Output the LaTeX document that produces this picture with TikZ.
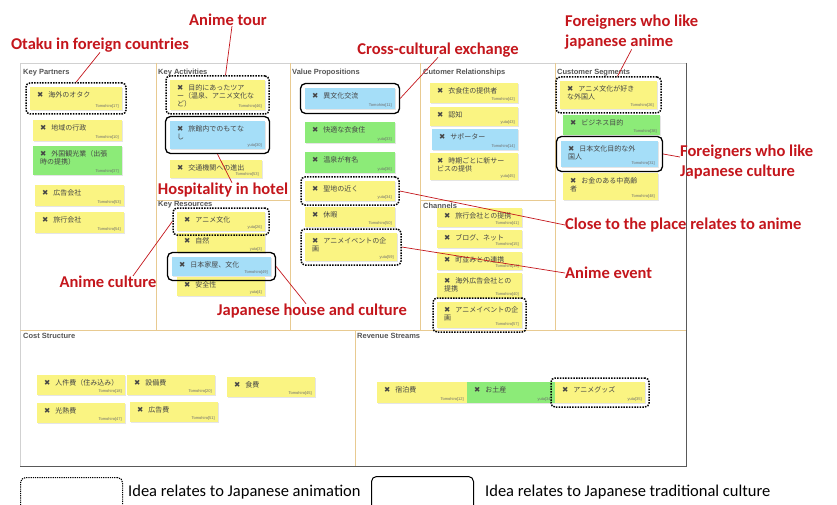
\documentclass[tikz,border=0pt]{standalone}
\usepackage{fontspec}
\setmainfont{Carlito}
\newfontfamily\jpfont{Noto Sans CJK JP}
\newfontfamily\markfont{DejaVu Sans}
\newfontfamily\tagfont{Liberation Sans}
\usetikzlibrary{calc,positioning,fit,shadows}
\definecolor{noteYellow}{RGB}{250,244,130}
\definecolor{noteGreen}{RGB}{140,235,120}
\definecolor{noteBlue}{RGB}{165,222,248}
\definecolor{noteInk}{RGB}{70,70,70}
\definecolor{tagGrey}{RGB}{110,110,110}
\definecolor{titleGrey}{RGB}{85,85,85}
\definecolor{canvasTan}{RGB}{232,202,145}
\definecolor{annotRed}{RGB}{196,22,28}
\newcommand{\StickyNote}[8]{%
  \node[stickyNote,fill=#6,minimum width=#4pt,minimum height=#5pt] (#1) at (#2,#3) {};
  \node[noteText] at ([shift={(7pt,-4.5pt)}]#1.north west) {{\markfont\fontsize{7.5}{8}\selectfont ✖}\hspace{5pt}#7};
  \node[noteTag] at ([shift={(-3pt,1.5pt)}]#1.south east) {#8};}

\begin{document}
\begin{tikzpicture}[x=1pt,y=-1pt,
  canvasRule/.style={draw=canvasTan,line width=0.9pt},
  blockTitle/.style={anchor=west,inner sep=0pt,text=titleGrey,font=\tagfont\bfseries\fontsize{7.5}{9}\selectfont},
  stickyNote/.style={anchor=north west,inner sep=0pt,outer sep=0pt,drop shadow={shadow xshift=0.6pt,shadow yshift=-0.8pt,fill=black!20}},
  noteText/.style={anchor=north west,inner sep=0pt,align=left,text=noteInk,font=\jpfont\fontsize{7}{8}\selectfont},
  noteTag/.style={anchor=south east,inner sep=0pt,text=tagGrey,font=\tagfont\fontsize{4}{4}\selectfont},
  animeRing/.style={draw=black,line width=1.5pt,dash pattern=on 1.5pt off 1.2pt,rounded corners=4pt,inner sep=4pt},
  cultureRing/.style={draw=black,line width=1.3pt,rounded corners=5pt,inner sep=4.5pt},
  callout/.style={text=annotRed,font=\bfseries\fontsize{16.5}{20}\selectfont,inner sep=0pt,align=left},
  calloutLine/.style={draw=annotRed,line width=0.7pt},
  legendText/.style={font=\fontsize{16.5}{20}\selectfont,inner sep=0pt,anchor=west}]
\useasboundingbox (0,0) rectangle (837,505);
\fill[white] (0,0) rectangle (837,505);

\draw[black!18] (20,63) rectangle (686,466);
\draw[canvasRule] (156,63) -- (156,330);
\draw[canvasRule] (290,63) -- (290,330);
\draw[canvasRule] (420,63) -- (420,330);
\draw[canvasRule] (555,63) -- (555,330);
\draw[canvasRule] (156,200) -- (290,200);
\draw[canvasRule] (420,200) -- (555,200);
\draw[canvasRule] (20,330) -- (686,330);
\draw[canvasRule] (355,330) -- (355,466);
\draw[black!65,line width=0.8pt] (686,63) -- (686,466) -- (20,466);

\node[blockTitle] (kpTitle) at (23,73) {Key Partners};
\node[blockTitle] (kaTitle) at (158,73) {Key Activities};
\node[blockTitle] (krTitle) at (158,205) {Key Resources};
\node[blockTitle] (vpTitle) at (292,73) {Value Propositions};
\node[blockTitle] (crTitle) at (423,73) {Cutomer Relationships};
\node[blockTitle] (chTitle) at (423,206) {Channels};
\node[blockTitle] (csTitle) at (557,73) {Customer Segments};
\node[blockTitle] (coTitle) at (23,336) {Cost Structure};
\node[blockTitle] (rvTitle) at (357,336) {Revenue Streams};

\StickyNote{kpA}{30}{87}{92}{23}{noteYellow}{海外のオタク}{Tomohiro[17]}
\StickyNote{kpB}{33}{120}{89}{21}{noteYellow}{地域の行政}{Tomohiro[10]}
\StickyNote{kpC}{33}{146}{89}{29}{noteGreen}{外国観光業（出張\\時の提携）}{Tomohiro[37]}
\StickyNote{kpD}{35}{185}{89}{21}{noteYellow}{広告会社}{Tomohiro[53]}
\StickyNote{kpE}{35}{212}{89}{21}{noteYellow}{旅行会社}{Tomohiro[54]}

\StickyNote{kaA}{170}{80}{95}{30}{noteYellow}{目的にあったツア\\ー（温泉、アニメ文化な\\ど）}{Tomohiro[46]}
\StickyNote{kaB}{170}{121}{95}{28}{noteBlue}{旅館内でのもてな\\し}{yuta[30]}
\StickyNote{kaC}{170}{160}{92}{18}{noteYellow}{交通機関への進出}{Tomohiro[53]}

\StickyNote{krA}{177}{212}{88}{19}{noteYellow}{アニメ文化}{yuta[26]}
\StickyNote{krB}{177}{233}{88}{20}{noteYellow}{自然}{yuta[3]}
\StickyNote{krC}{172}{257}{99}{19}{noteBlue}{日本家屋、文化}{Tomohiro[49]}
\StickyNote{krD}{177}{277}{88}{19}{noteYellow}{安全性}{yuta[4]}

\StickyNote{vpA}{305}{88}{90}{21}{noteBlue}{異文化交流}{Tomohiro[11]}
\StickyNote{vpB}{305}{122}{90}{21}{noteGreen}{快適な衣食住}{yuta[33]}
\StickyNote{vpC}{305}{152}{90}{21}{noteGreen}{温泉が有名}{yuta[36]}
\StickyNote{vpD}{305}{181}{90}{20}{noteYellow}{聖地の近く}{yuta[34]}
\StickyNote{vpE}{305}{207}{90}{20}{noteYellow}{休暇}{Tomohiro[50]}
\StickyNote{vpF}{305}{233}{92}{28}{noteYellow}{アニメイベントの企\\画}{yuta[59]}

\StickyNote{crA}{430}{83}{88}{20}{noteYellow}{衣食住の提供者}{Tomohiro[42]}
\StickyNote{crB}{430}{107}{88}{19}{noteYellow}{認知}{yuta[43]}
\StickyNote{crC}{432}{129}{86}{21}{noteBlue}{サポーター}{Tomohiro[14]}
\StickyNote{crD}{430}{153}{88}{27}{noteYellow}{時期ごとに新サー\\ビスの提供}{yuta[45]}

\StickyNote{chA}{437}{208}{85}{19}{noteYellow}{旅行会社との提携}{Tomohiro[41]}
\StickyNote{chB}{437}{230}{85}{18}{noteYellow}{ブログ、ネット}{Tomohiro[15]}
\StickyNote{chC}{437}{252}{85}{18}{noteYellow}{町並みとの連携}{Tomohiro[13]}
\StickyNote{chD}{437}{273}{85}{25}{noteYellow}{海外広告会社との\\提携}{Tomohiro[40]}
\StickyNote{chE}{437}{302}{85}{26}{noteYellow}{アニメイベントの企\\画}{Tomohiro[57]}

\StickyNote{csA}{560}{81}{97}{28}{noteYellow}{アニメ文化が好き\\な外国人}{Tomohiro[26]}
\StickyNote{csB}{563}{115}{97}{20}{noteGreen}{ビジネス目的}{Tomohiro[38]}
\StickyNote{csC}{561}{141}{97}{26}{noteBlue}{日本文化目的な外\\国人}{Tomohiro[31]}
\StickyNote{csD}{563}{173}{95}{27}{noteYellow}{お金のある中高齢\\者}{Tomohiro[48]}

\StickyNote{coA}{37}{375}{88}{20}{noteYellow}{人件費（住み込み）}{Tomohiro[18]}
\StickyNote{coB}{127}{375}{88}{20}{noteYellow}{設備費}{Tomohiro[20]}
\StickyNote{coC}{227}{377}{88}{20}{noteYellow}{食費}{Tomohiro[45]}
\StickyNote{coD}{37}{403}{88}{20}{noteYellow}{光熱費}{Tomohiro[47]}
\StickyNote{coE}{130}{402}{88}{20}{noteYellow}{広告費}{Tomohiro[51]}

\StickyNote{rvA}{377}{382}{90}{21}{noteYellow}{宿泊費}{Tomohiro[12]}
\StickyNote{rvB}{467}{382}{88}{21}{noteGreen}{お土産}{yuta[34]}
\StickyNote{rvC}{555}{382}{90}{21}{noteYellow}{アニメグッズ}{yuta[35]}

\node[animeRing,fit=(kpA)] (kpAring) {};
\node[animeRing,fit=(kaA)] (kaAring) {};
\node[animeRing,fit=(krA)] (krAring) {};
\node[animeRing,fit=(vpD)] (vpDring) {};
\node[animeRing,fit=(vpF)] (vpFring) {};
\node[animeRing,fit=(chE)] (chEring) {};
\node[animeRing,fit=(csA)] (csAring) {};
\node[animeRing,fit=(rvC)] (rvCring) {};
\node[cultureRing,fit=(kaB)] (kaBring) {};
\node[cultureRing,fit=(krC)] (krCring) {};
\node[cultureRing,fit=(vpA)] (vpAring) {};
\node[cultureRing,fit=(csC)] (csCring) {};

\node[callout] (otakuLbl) at (100,45) {Otaku in foreign countries};
\node[callout] (tourLbl) at (228,20) {Anime tour};
\node[callout] (crossLbl) at (438,50) {Cross-cultural exchange};
\node[callout,anchor=west] (animeFanLbl) at (565,32) {Foreigners who like\\japanese anime};
\node[callout] (hotelLbl) at (223,190) {Hospitality in hotel};
\node[callout] (cultureLbl) at (108,282) {Anime culture};
\node[callout] (houseLbl) at (312,311) {Japanese house and culture};
\node[callout,anchor=west] (placeLbl) at (565,225) {Close to the place relates to anime};
\node[callout,anchor=west] (eventLbl) at (565,273) {Anime event};
\node[callout,anchor=west] (cultureFanLbl) at (680,162) {Foreigners who like\\Japanese culture};

\draw[calloutLine] (otakuLbl.south) -- (kpAring.north);
\draw[calloutLine] ([xshift=4pt]tourLbl.south) -- ([xshift=8pt]kaAring.north);
\draw[calloutLine] (crossLbl.south) -- (vpAring.east);
\draw[calloutLine] (animeFanLbl.south) -- ([xshift=9pt]csAring.north);
\draw[calloutLine] ([xshift=9pt]hotelLbl.north) -- (kaBring.south);
\draw[calloutLine] ([xshift=25pt]cultureLbl.north) -- (krAring.west);
\draw[calloutLine] ([xshift=-6pt]houseLbl.north) -- (krCring.east);
\draw[calloutLine] (placeLbl.west) -- (vpDring.east);
\draw[calloutLine] (eventLbl.west) -- (vpFring.east);
\draw[calloutLine] ([yshift=5pt]cultureFanLbl.west) -- (csCring.east);

\node[draw=black,line width=1.1pt,dash pattern=on 1.2pt off 1pt,rounded corners=5pt,minimum width=102pt,minimum height=35pt,anchor=north west] (legAnimeBox) at (20,477) {};
\node[legendText] (legAnimeTxt) at (128,492) {Idea relates to Japanese animation};
\node[draw=black,line width=1pt,rounded corners=5pt,minimum width=102pt,minimum height=36pt,anchor=north west] (legCultureBox) at (371,476) {};
\node[legendText] (legCultureTxt) at (485,492) {Idea relates to Japanese traditional culture};
\end{tikzpicture}
\end{document}
